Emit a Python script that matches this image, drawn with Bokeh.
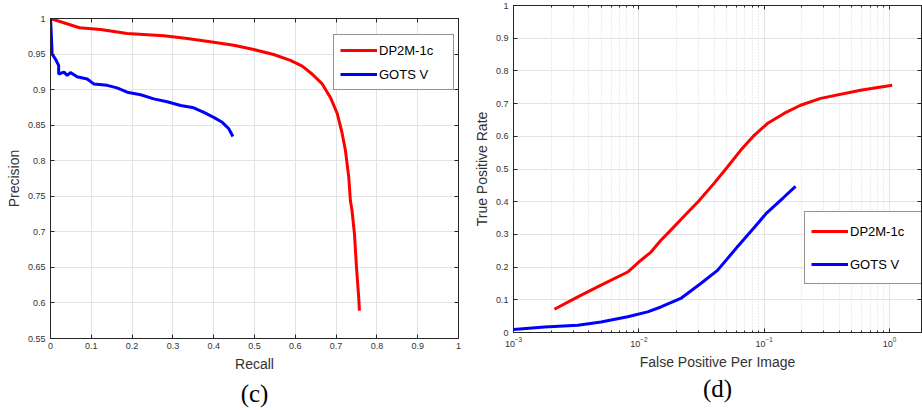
from bokeh.plotting import figure
from bokeh.models import (FixedTicker, CustomJSTickFormatter, Legend, LegendItem,
                          LinearAxis, LogAxis, Range1d)
from bokeh.embed import file_html
from bokeh.resources import INLINE

# ---------------- data ----------------
# (c) precision-recall
recall_dp2m = [0.0, 0.071, 0.123, 0.188, 0.278, 0.335, 0.40, 0.449, 0.498, 0.547, 0.588,
               0.617, 0.641, 0.666, 0.686, 0.703, 0.715, 0.723, 0.731, 0.735, 0.739,
               0.745, 0.750, 0.756, 0.757]
precision_dp2m = [1.0, 0.987, 0.9845, 0.979, 0.9757, 0.9719, 0.9667, 0.9625, 0.9564, 0.9494,
                  0.941, 0.933, 0.922, 0.908, 0.889, 0.866, 0.838, 0.814, 0.777, 0.744,
                  0.730, 0.697, 0.650, 0.603, 0.589]
recall_gots = [0.0, 0.002, 0.004, 0.012, 0.020, 0.020, 0.033, 0.041, 0.049, 0.065, 0.090,
               0.106, 0.139, 0.163, 0.188, 0.221, 0.253, 0.286, 0.319, 0.351, 0.376,
               0.400, 0.421, 0.437, 0.447]
precision_gots = [1.0, 0.978, 0.950, 0.943, 0.934, 0.922, 0.9245, 0.920, 0.924, 0.918, 0.915,
                  0.908, 0.906, 0.9025, 0.8963, 0.8927, 0.887, 0.883, 0.8777, 0.8744, 0.868,
                  0.861, 0.854, 0.845, 0.834]

# (d) TPR vs FPPI
fppi_dp2m = [2.12e-3, 3.26e-3, 4.99e-3, 8.15e-3, 1.04e-2, 1.25e-2, 1.5e-2, 1.8e-2, 2.45e-2,
             2.97e-2, 3.98e-2, 5.09e-2, 6.49e-2, 8.33e-2, 0.106, 0.144, 0.195, 0.282, 0.586, 1.05]
tpr_dp2m = [0.071, 0.109, 0.145, 0.185, 0.221, 0.246, 0.282, 0.313, 0.367, 0.400, 0.456,
            0.506, 0.557, 0.603, 0.639, 0.670, 0.695, 0.716, 0.741, 0.756]
fppi_gots = [1e-3, 1.77e-3, 3.26e-3, 4.99e-3, 8.15e-3, 1.175e-2, 1.5e-2, 2.16e-2, 3.12e-2,
             4.24e-2, 6.12e-2, 8.2e-2, 0.105, 0.142, 0.178]
tpr_gots = [0.009, 0.017, 0.022, 0.032, 0.048, 0.063, 0.078, 0.104, 0.150, 0.190, 0.262,
            0.318, 0.366, 0.412, 0.447]

series_names = ["DP2M-1c", "GOTS V"]
pr_x_ticks = [0, 0.1, 0.2, 0.3, 0.4, 0.5, 0.6, 0.7, 0.8, 0.9, 1]
pr_y_ticks = [0.55, 0.6, 0.65, 0.7, 0.75, 0.8, 0.85, 0.9, 0.95, 1]
roc_x_ticks = [1e-3, 1e-2, 1e-1, 1]
roc_y_ticks = [0, 0.1, 0.2, 0.3, 0.4, 0.5, 0.6, 0.7, 0.8, 0.9, 1]
roc_x_minor = [m * d for d in (1e-3, 1e-2, 1e-1, 1) for m in range(2, 10)]

AX = "#262626"
GRID = "#e3e3e3"
FONT = "Liberation Sans"
RED = "#ff0000"
BLUE = "#0000ff"

fmt = CustomJSTickFormatter(code="return String(parseFloat(tick.toFixed(2)));")


def style_axis(ax, labels=True):
    ax.axis_line_color = AX
    ax.major_tick_line_color = AX
    ax.minor_tick_line_color = AX
    ax.major_tick_in = 4
    ax.major_tick_out = 0
    ax.minor_tick_in = 2
    ax.minor_tick_out = 0
    ax.major_label_text_font = FONT
    ax.major_label_text_color = "#333333" if labels else None
    ax.major_label_text_font_size = "9px"
    ax.axis_label_text_font = FONT
    ax.axis_label_text_font_size = "14px"
    ax.axis_label_text_font_style = "normal"
    ax.axis_label_text_color = "#333333"


def make_legend(r1, r2, loc, gh, sp, pad, lw):
    return Legend(items=[LegendItem(label=series_names[0], renderers=[r1]),
                         LegendItem(label=series_names[1], renderers=[r2])],
                  location=loc, margin=0, padding=pad, spacing=sp,
                  glyph_width=37, glyph_height=gh, label_standoff=2, label_width=lw,
                  label_text_font=FONT, label_text_font_size="13px",
                  label_text_color="black",
                  border_line_color=AX, border_line_width=1,
                  background_fill_color="white", background_fill_alpha=1)


def style_title(p, standoff):
    p.title.align = "center"
    p.title.text_font = "Liberation Serif"
    p.title.text_font_size = "25px"
    p.title.text_font_style = "normal"
    p.title.text_color = "black"
    p.title.standoff = standoff


# ---------------- (c) ----------------
p1 = figure(width=470, height=410, x_range=Range1d(0, 1), y_range=Range1d(0.55, 1),
            output_backend="svg", toolbar_location=None,
            min_border_left=50, min_border_right=12, min_border_top=18, min_border_bottom=72,
            title="(c)", title_location="below")
style_title(p1, 7)
p1.outline_line_color = AX

p1.xaxis.ticker = FixedTicker(ticks=pr_x_ticks)
p1.yaxis.ticker = FixedTicker(ticks=pr_y_ticks)
p1.xaxis.formatter = fmt
p1.yaxis.formatter = fmt
p1.xaxis.axis_label = "Recall"
p1.yaxis.axis_label = "Precision"
style_axis(p1.xaxis[0])
style_axis(p1.yaxis[0])
p1.xaxis.major_label_standoff = 4
p1.yaxis.major_label_standoff = 5
p1.xaxis.axis_label_standoff = 4
p1.yaxis.axis_label_standoff = 3
for side in ("above", "right"):
    ax = LinearAxis(ticker=FixedTicker(ticks=pr_x_ticks if side == "above" else pr_y_ticks),
                    major_label_standoff=0)
    style_axis(ax, labels=False)
    p1.add_layout(ax, side)
p1.xgrid.grid_line_color = GRID
p1.ygrid.grid_line_color = GRID
p1.xgrid.ticker = FixedTicker(ticks=pr_x_ticks)
p1.ygrid.ticker = FixedTicker(ticks=pr_y_ticks)

a1 = p1.line(recall_dp2m, precision_dp2m, line_color=RED, line_width=3)
b1 = p1.line(recall_gots, precision_gots, line_color=BLUE, line_width=3)
p1.add_layout(make_legend(a1, b1, (283, 248), 18, 6, 6, 68))

# ---------------- (d) ----------------
p2 = figure(width=452, height=410, x_axis_type="log",
            x_range=Range1d(1e-3, 1.8), y_range=Range1d(0, 1),
            output_backend="svg", toolbar_location=None,
            min_border_left=42, min_border_right=1, min_border_top=5, min_border_bottom=78,
            title="(d)", title_location="below",
            styles={"position": "absolute", "left": "470px", "top": "0px"})
style_title(p2, 1)
p2.outline_line_color = AX

xt = FixedTicker(ticks=roc_x_ticks, minor_ticks=roc_x_minor)
p2.xaxis.ticker = xt
p2.yaxis.ticker = FixedTicker(ticks=roc_y_ticks)
p2.yaxis.formatter = fmt
p2.xaxis.axis_label = "False Positive Per Image"
p2.yaxis.axis_label = "True Positive Rate"
style_axis(p2.xaxis[0])
style_axis(p2.yaxis[0])
p2.xaxis.major_label_standoff = 4
p2.yaxis.major_label_standoff = 5
p2.xaxis.axis_label_standoff = 4
p2.yaxis.axis_label_standoff = 3
p2.yaxis.minor_tick_in = 0
top = LogAxis(ticker=FixedTicker(ticks=roc_x_ticks, minor_ticks=roc_x_minor), major_label_standoff=0)
style_axis(top, labels=False)
p2.add_layout(top, "above")
rgt = LinearAxis(ticker=FixedTicker(ticks=roc_y_ticks), major_label_standoff=0)
style_axis(rgt, labels=False)
rgt.minor_tick_in = 0
p2.add_layout(rgt, "right")
p2.xgrid.ticker = xt
p2.xgrid.grid_line_color = GRID
p2.xgrid.minor_grid_line_color = "#d8d8d8"
p2.xgrid.minor_grid_line_dash = "1 2"
p2.ygrid.ticker = FixedTicker(ticks=roc_y_ticks)
p2.ygrid.grid_line_color = GRID

a2 = p2.line(fppi_dp2m, tpr_dp2m, line_color=RED, line_width=3)
b2 = p2.line(fppi_gots, tpr_gots, line_color=BLUE, line_width=3)
p2.add_layout(make_legend(a2, b2, (291, 48), 26, 7, 6, 140))

open("out.html", "w").write(file_html([p1, p2], INLINE))
